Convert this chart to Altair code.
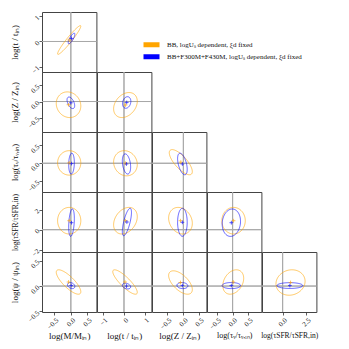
import altair as alt
import pandas as pd

SERIES = ["BB, logUₛ dependent, ξd fixed", "BB+F300M+F430M, logUₛ dependent, ξd fixed"]
COLORS = ["#FFA500", "#0000FF"]

X_TITLES = ["log(M/Mᵢₙ)", "log(t / tᵢₙ)", "log(Z / Zᵢₙ)", "log(τᵥ/τᵥ,ᵢₙ)", "log(τSFR/τSFR,in)"]
Y_TITLES = ["log(t / tᵢₙ)", "log(Z / Zᵢₙ)", "log(τᵥ/τᵥ,ᵢₙ)", "log(τSFR/τSFR,in)", "log(ψ / ψᵢₙ)"]
X_TITLE_SIZES = [9, 9, 9, 8, 7.5]
Y_TITLE_SIZES = [9, 9, 8.5, 7.5, 9]
X_DOMAINS = [[-0.87, 0.77], [-1.3, 1.32], [-0.98, 0.72], [-0.81, 0.91], [-2.17, 3.55]]
Y_DOMAINS = [[-1.21, 1.17], [-0.95, 0.92], [-0.8, 0.87], [-2.23, 3.77], [-0.51, 0.67]]
X_TICKS = [[-0.5, 0, 0.5], [-1, 0, 1], [-0.5, 0, 0.5], [-0.5, 0, 0.5], [0, 2.5]]
X_FORMATS = [".1f", "d", ".1f", ".1f", ".1f"]
Y_TICKS = [[-1, 0, 1], [-0.5, 0, 0.5], [-0.5, 0, 0.5], [-2, 0, 2], [-0.5, 0, 0.5]]
Y_FORMATS = ["d", ".1f", ".1f", "d", ".1f"]

# lower-triangle panels (row = y variable, col = x variable)
PANEL_ROW = [0, 1, 1, 2, 2, 2, 3, 3, 3, 3, 4, 4, 4, 4, 4]
PANEL_COL = [0, 0, 1, 0, 1, 2, 0, 1, 2, 3, 0, 1, 2, 3, 4]

# 1-sigma contour parameters: centre, half-extent in x / y, correlation
ORANGE_CX = [-0.05, -0.07, 0.07, -0.05, 0.07, -0.08, -0.05, 0.07, -0.09, 0.03, -0.07, 0.05, -0.09, 0.02, 0.83]
ORANGE_CY = [0.06, -0.10, -0.11, 0.01, 0.00, 0.03, 0.90, 0.90, 0.90, 0.90, 0.08, 0.08, 0.07, 0.08, 0.07]
ORANGE_SX = [0.35, 0.37, 0.57, 0.35, 0.57, 0.36, 0.35, 0.57, 0.37, 0.37, 0.37, 0.59, 0.37, 0.33, 1.53]
ORANGE_SY = [0.57, 0.40, 0.39, 0.34, 0.35, 0.35, 1.33, 1.33, 1.33, 1.33, 0.24, 0.24, 0.23, 0.24, 0.25]
ORANGE_RHO = [0.96, -0.10, 0.30, 0.00, -0.10, -0.75, 0.00, 0.30, -0.20, 0.00, -0.80, -0.85, -0.60, 0.30, 0.10]

BLUE_CX = [0.02, 0.00, 0.13, 0.02, 0.12, -0.03, 0.02, 0.14, -0.03, -0.04, 0.01, 0.12, -0.03, -0.04, 0.76]
BLUE_CY = [0.12, -0.04, -0.03, -0.01, -0.02, -0.02, 0.70, 0.77, 0.74, 0.70, 0.01, 0.00, 0.01, 0.01, 0.01]
BLUE_SX = [0.10, 0.115, 0.20, 0.085, 0.20, 0.15, 0.085, 0.22, 0.15, 0.29, 0.11, 0.20, 0.17, 0.29, 1.35]
BLUE_SY = [0.21, 0.18, 0.18, 0.29, 0.28, 0.30, 1.37, 1.37, 1.40, 1.37, 0.06, 0.056, 0.06, 0.06, 0.057]
BLUE_RHO = [0.80, -0.50, 0.20, 0.10, -0.30, -0.50, 0.30, 0.70, 0.00, 0.10, -0.30, -0.30, -0.10, 0.00, 0.00]

W = 54.4
H = 60
FONT = "Liberation Serif"
PLUS = "M-1,0L1,0M0,-1L0,1"
BAR = "M-1,0L1,0"

color_enc = alt.Color(
    "series:N",
    scale=alt.Scale(domain=SERIES, range=COLORS),
    legend=alt.Legend(
        orient="none", legendX=99, legendY=27, title=None,
        symbolType=BAR, symbolSize=256, symbolStrokeWidth=5, symbolOpacity=1,
        labelFont=FONT, labelFontSize=7, labelOffset=5, labelColor="#111",
        rowPadding=0, clipHeight=11.4, labelLimit=300,
    ),
)


def x_axis(c):
    return alt.Axis(values=X_TICKS[c], format=X_FORMATS[c], title=X_TITLES[c],
                    titleFontSize=X_TITLE_SIZES[c],
                    labelAngle=315, labelAlign="right", labelBaseline="top",
                    minExtent=16, maxExtent=16, titlePadding=3)


def y_axis(r):
    return alt.Axis(values=Y_TICKS[r], format=Y_FORMATS[r], title=Y_TITLES[r],
                    titleFontSize=Y_TITLE_SIZES[r],
                    labelAngle=315, labelAlign="right", labelBaseline="middle",
                    minExtent=20, maxExtent=20, titlePadding=3)


def panel(k):
    r, c = PANEL_ROW[k], PANEL_COL[k]
    df = pd.DataFrame({
        "series": SERIES,
        "cx": [ORANGE_CX[k], BLUE_CX[k]],
        "cy": [ORANGE_CY[k], BLUE_CY[k]],
        "sx": [ORANGE_SX[k], BLUE_SX[k]],
        "sy": [ORANGE_SY[k], BLUE_SY[k]],
        "rho": [ORANGE_RHO[k], BLUE_RHO[k]],
    })
    xs = alt.Scale(domain=X_DOMAINS[c], nice=False, zero=False)
    ys = alt.Scale(domain=Y_DOMAINS[r], nice=False, zero=False)
    xa = x_axis(c) if r == 4 else None
    ya = y_axis(r) if c == 0 else None
    base = alt.Chart(df)

    vrule = base.mark_rule(color="#a8a8a8", strokeWidth=1).encode(
        x=alt.XDatum(0, scale=xs, axis=xa))
    hrule = base.mark_rule(color="#a8a8a8", strokeWidth=1).encode(
        y=alt.YDatum(0, scale=ys, axis=ya))

    ell = base.transform_calculate(
        i="sequence(0, 101)"
    ).transform_flatten(["i"]).transform_calculate(
        t="datum.i * 2 * PI / 100",
        ex="datum.cx + datum.sx * cos(datum.t)",
        ey="datum.cy + datum.sy * (datum.rho * cos(datum.t) + sqrt(1 - datum.rho * datum.rho) * sin(datum.t))",
    ).mark_line(strokeWidth=1, strokeOpacity=0.6, clip=True).encode(
        x=alt.X("ex:Q", scale=xs, axis=xa),
        y=alt.Y("ey:Q", scale=ys, axis=ya),
        color=color_enc,
        order=alt.Order("i:Q"),
    )

    mk = base.mark_point(shape=PLUS, size=14, strokeWidth=0.8, opacity=0.8).encode(
        x=alt.X("cx:Q", scale=xs, axis=xa),
        y=alt.Y("cy:Q", scale=ys, axis=ya),
        color=color_enc,
    )
    return alt.layer(vrule, hrule, ell, mk).properties(width=W, height=H)


def blank():
    return alt.Chart(pd.DataFrame({"a": [0]})).mark_point(opacity=0).encode(
        x=alt.value(0), y=alt.value(0)
    ).properties(width=W, height=H, view=alt.ViewBackground(stroke="transparent"))


cells = []
for r in range(5):
    for c in range(5):
        if c <= r:
            k = [i for i in range(len(PANEL_ROW)) if PANEL_ROW[i] == r and PANEL_COL[i] == c][0]
            cells.append(panel(k))
        else:
            cells.append(blank())

chart = alt.concat(*cells, columns=5, spacing=0, bounds="flush").properties(
    padding={"left": 1, "top": 0, "right": 0, "bottom": 0}
).configure_view(
    stroke="#444444", strokeWidth=1
).configure_axis(
    labelFont=FONT, labelFontSize=7, labelColor="#222",
    titleFont=FONT, titleFontWeight="normal", titleColor="#111",
    tickSize=3, tickColor="#333", tickWidth=0.8, domain=False, grid=False,
    labelOverlap=False, labelFlush=False, labelPadding=1,
)

chart.save("out.html", embed_options={"renderer": "svg", "actions": False})
